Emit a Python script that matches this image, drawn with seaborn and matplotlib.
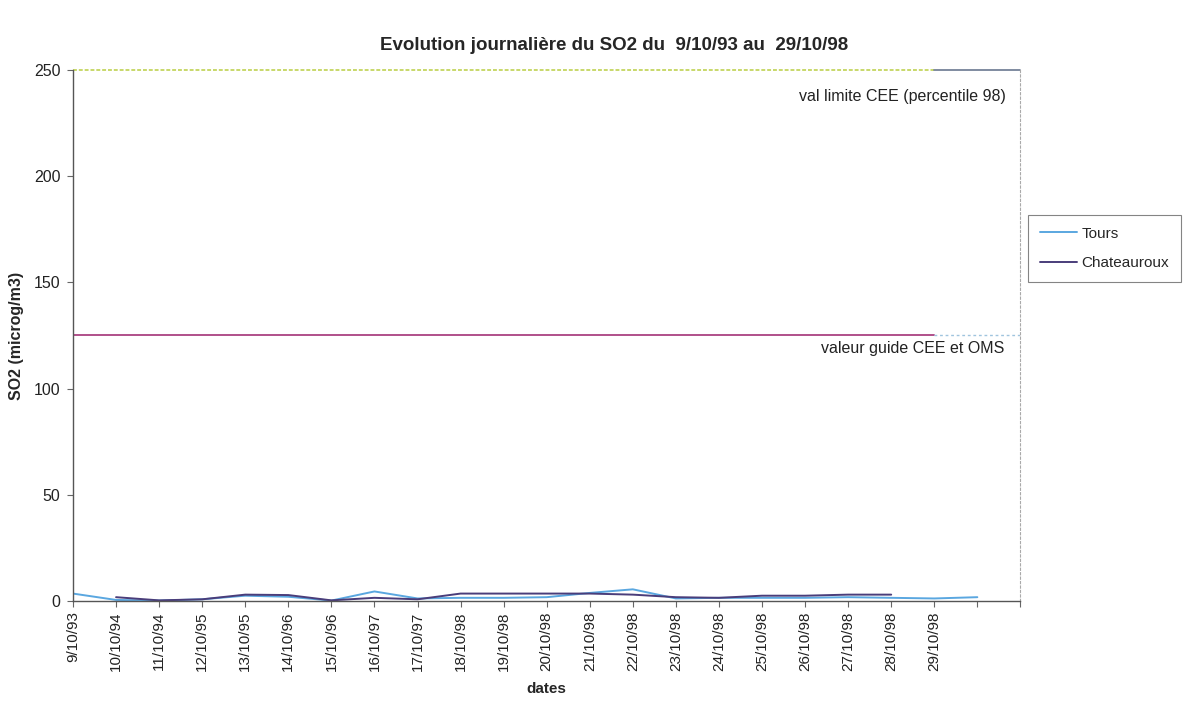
import numpy as np
import pandas as pd
import matplotlib
matplotlib.use("Agg")
import matplotlib.pyplot as plt
import seaborn as sns

# dates (labels on the first 21 ticks, two extra ticks without label)
dates = ["9/10/93", "10/10/94", "11/10/94", "12/10/95", "13/10/95", "14/10/96",
         "15/10/96", "16/10/97", "17/10/97", "18/10/98", "19/10/98", "20/10/98",
         "21/10/98", "22/10/98", "23/10/98", "24/10/98", "25/10/98", "26/10/98",
         "27/10/98", "28/10/98", "29/10/98", "", ""]

tours = [3.5, 0.5, 0.2, 0.8, 2.5, 2.0, 0.2, 4.5, 1.2, 1.5, 1.5, 1.8,
         3.8, 5.5, 1.2, 1.5, 1.5, 1.5, 1.8, 1.5, 1.2, 1.8]
chateauroux = [None, 1.8, 0.3, 0.8, 3.0, 2.8, 0.3, 1.5, 0.8, 3.5, 3.5, 3.5,
               3.5, 3.0, 1.8, 1.5, 2.5, 2.5, 3.0, 3.0]
val_limite = 250
val_guide = 125

sns.set_style("white")
plt.rcParams['font.family'] = ['Liberation Sans', 'DejaVu Sans']

fig = plt.figure(figsize=(11.85, 7.04), dpi=100)
ax = fig.add_axes([0.0616, 0.1463, 0.7995, 0.7543])

x = np.arange(len(dates))
df_t = pd.DataFrame({"x": x[:len(tours)], "v": tours})
df_c = pd.DataFrame({"x": x[:len(chateauroux)], "v": chateauroux}).dropna()

# reference lines over the labelled dates
ref_x = x[:21]
sns.lineplot(x=ref_x, y=[val_limite] * 21, ax=ax, color="#c8d86a", lw=1.4,
             linestyle=(0, (2, 1)), clip_on=False)
sns.lineplot(x=x[20:], y=[val_limite] * 3, ax=ax, color="#6a7890", lw=1.2,
             clip_on=False)
sns.lineplot(x=ref_x, y=[val_guide] * 21, ax=ax, color="#b0508a", lw=1.4)
sns.lineplot(x=x[20:], y=[val_guide] * 3, ax=ax, color="#9fc4de", lw=1,
             linestyle=(0, (2, 2)))

sns.lineplot(data=df_t, x="x", y="v", ax=ax, color="#5aa7e0", lw=1.4, label="Tours")
sns.lineplot(data=df_c, x="x", y="v", ax=ax, color="#4a3d7a", lw=1.4, label="Chateauroux")

ax.set_xlim(0, len(dates) - 1)
ax.set_ylim(0, 250)
ax.set_yticks(range(0, 251, 50))
ax.set_xticks(x)
ax.set_xticklabels(dates, rotation=90, fontsize=11, color="#222222")
ax.tick_params(axis="y", labelsize=11.5, colors="#222222", pad=5)
ax.tick_params(axis="both", direction="out", length=4, width=0.8, color="#666666")
ax.xaxis.set_ticks_position("bottom")
ax.yaxis.set_ticks_position("left")

for s in ["left", "bottom"]:
    ax.spines[s].set_color("#555555")
    ax.spines[s].set_linewidth(1)
ax.spines["top"].set_visible(False)
ax.spines["right"].set_color("#aaaaaa")
ax.spines["right"].set_linestyle((0, (2, 2)))
ax.spines["right"].set_linewidth(0.8)

ax.set_xlabel("dates", fontsize=11, fontweight="bold", labelpad=8)
ax.set_ylabel("SO2 (microg/m3)", fontsize=11.5, fontweight="bold", labelpad=7)
fig.suptitle("Evolution journalière du SO2 du  9/10/93 au  29/10/98", x=0.518, y=0.948,
             fontsize=13.5, fontweight="bold")

ax.text(0.985, 0.965, "val limite CEE (percentile 98)", transform=ax.transAxes,
        ha="right", va="top", fontsize=11.5, color="#222222")
ax.text(0.983, 0.49, "valeur guide CEE et OMS", transform=ax.transAxes,
        ha="right", va="top", fontsize=11.5, color="#222222")

leg = ax.legend(loc="center left", bbox_to_anchor=(1.0, 0.664), frameon=True,
                fontsize=11, handlelength=2.4, handletextpad=0.3, labelspacing=1.0,
                borderpad=0.8, fancybox=False, edgecolor="#666666")
leg.get_frame().set_linewidth(0.8)

fig.savefig("out.png", dpi=100)
